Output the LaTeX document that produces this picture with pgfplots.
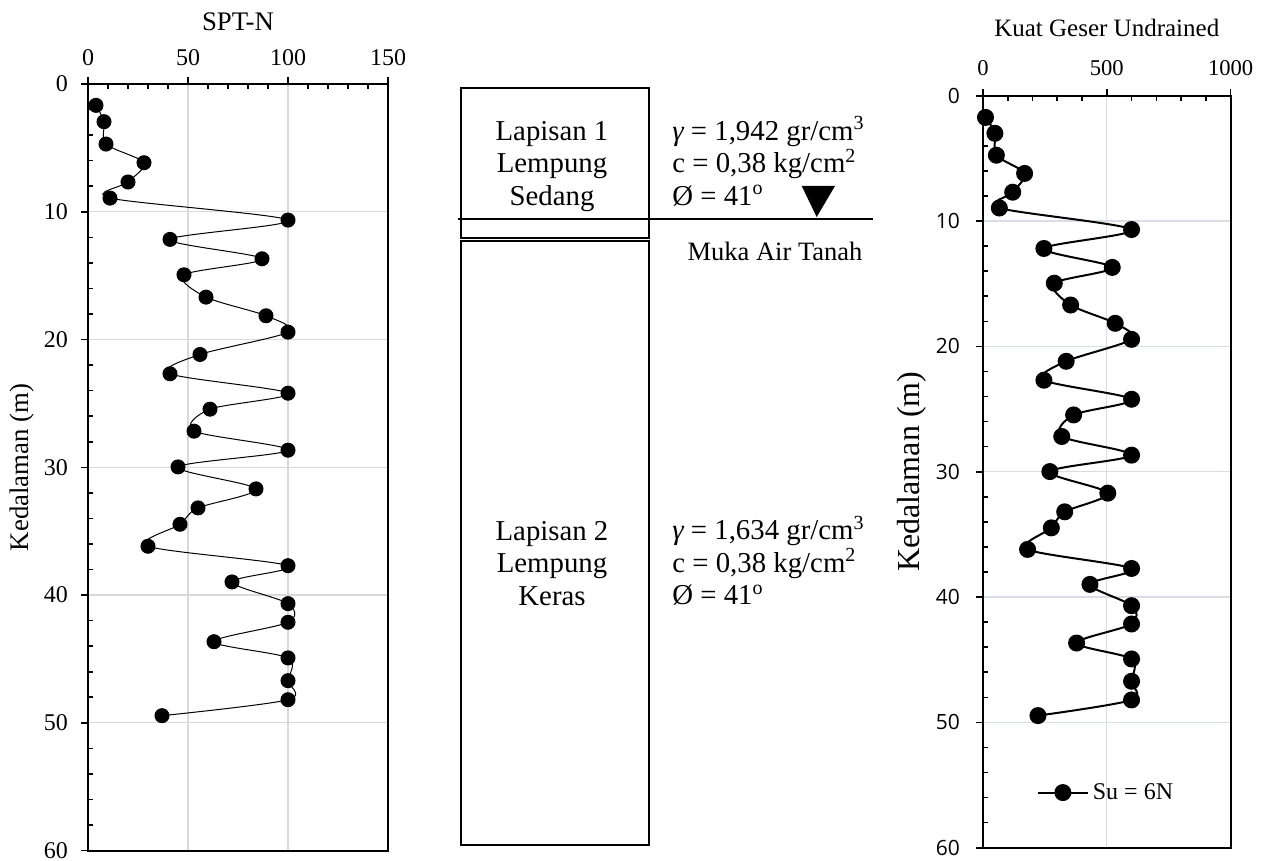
\documentclass[border=0pt]{standalone}
\usepackage{pgfplots}
\pgfplotsset{compat=1.18}
\usepackage{fontspec}
\setmainfont{Liberation Serif}
\newfontfamily\ticksans{Open Sans}

\pgfplotstableread{
d N
1.67 4
2.95 8
4.70 9
6.16 28
7.67 20
8.93 11
10.65 100
12.16 41
13.68 87
14.93 48
16.68 59
18.14 89
19.42 100
21.17 56
22.68 41
24.20 100
25.45 61
27.17 53
28.66 100
29.97 45
31.69 84
33.18 55
34.46 46
36.18 30
37.70 100
38.97 72
40.67 100
42.13 100
43.65 63
44.92 100
46.70 100
48.19 100
49.44 37
}\spt

\pgfplotstableread{
d Su
1.73 10
3.00 48
4.75 54
6.20 168
7.70 120
8.96 66
10.68 600
12.19 246
13.70 522
14.96 288
16.70 354
18.16 534
19.44 600
21.19 336
22.70 246
24.22 600
25.47 366
27.19 318
28.68 600
29.99 270
31.71 504
33.20 330
34.48 276
36.20 180
37.72 600
38.99 432
40.69 600
42.15 600
43.67 378
44.94 600
46.72 600
48.21 600
49.46 222
}\su

\pgfplotsset{
  commonaxis/.style={
    scale only axis,
    y dir=reverse,
    ymin=0, ymax=60,
    ytick={0,10,...,60},
    minor y tick num=4,
    xtick pos=upper, xticklabel pos=upper,
    ytick pos=left,
    tick align=outside,
    major tick length=3.5pt,
    minor tick length=-2.5pt,
    tick style={black, line width=0.8pt},
    axis line style={black, line width=1pt},
    grid=major,
    /pgf/number format/assume math mode=true,
    /pgf/number format/1000 sep={},
  },
}

\begin{document}
\begin{tikzpicture}
\useasboundingbox (0,0) rectangle (635pt,-430.5pt);

% ---------------- Left: SPT-N ----------------
\begin{axis}[commonaxis,
  at={(44pt,-42pt)}, anchor=north west,
  width=150pt, height=383.3pt,
  xmin=0, xmax=150, xtick={0,50,100,150}, minor x tick num=4,
  major grid style={gray!30, line width=0.6pt},
  xticklabel style={font=\fontsize{12}{14}\selectfont, yshift=2pt},
  yticklabel style={font=\fontsize{12}{14}\selectfont, xshift=-3pt},
  xlabel={SPT-N},
  xlabel style={at={(axis description cs:0.5,1.0813)}, anchor=center, font=\fontsize{13.4}{16}\selectfont},
  ylabel={Kedalaman (m)},
  ylabel style={at={(axis description cs:-0.22,0.5)}, anchor=center, font=\fontsize{13.4}{16}\selectfont},
]
\addplot[black, line width=0.5pt, smooth, tension=0.5, mark=*, mark size=3.5pt, mark options={fill=black}]
  table[x=N, y=d] {\spt};
\end{axis}

% ---------------- Middle: soil profile ----------------
\begin{axis}[
  at={(220pt,-42pt)}, anchor=north west,
  scale only axis, hide axis,
  width=230pt, height=383.3pt,
  xmin=440, xmax=900, ymin=0, ymax=60, y dir=reverse,
  clip=false,
]
\draw[black, line width=1pt] (axis cs:460.7,0.34) rectangle (axis cs:649.3,12.08);
\draw[black, line width=1pt] (axis cs:460.7,12.26) rectangle (axis cs:649.3,59.56);
\draw[black, line width=0.6pt] (axis cs:458,10.57) -- (axis cs:873,10.57);
\fill[black] (axis cs:801.7,7.98) -- (axis cs:835,7.98) -- (axis cs:816.7,10.41) -- cycle;
\node[align=center, inner sep=0pt, font=\fontsize{14.4}{16.25}\selectfont] at (axis cs:552,6.45)
  {Lapisan 1\\Lempung\\Sedang};
\node[align=left, anchor=west, inner sep=0pt, font=\fontsize{14.4}{16.25}\selectfont] at (axis cs:672,6.03)
  {{\itshape γ} = 1,942 gr/cm\textsuperscript{3}\\c = 0,38 kg/cm\textsuperscript{2}\\Ø = 41\textsuperscript{o}};
\node[inner sep=0pt, font=\fontsize{13.25}{15}\selectfont] at (axis cs:775,13.12) {Muka Air Tanah};
\node[align=center, inner sep=0pt, font=\fontsize{14.4}{16.25}\selectfont] at (axis cs:552,37.5)
  {Lapisan 2\\Lempung\\Keras};
\node[align=left, anchor=west, inner sep=0pt, font=\fontsize{14.4}{16.25}\selectfont] at (axis cs:672,37.33)
  {{\itshape γ} = 1,634 gr/cm\textsuperscript{3}\\c = 0,38 kg/cm\textsuperscript{2}\\Ø = 41\textsuperscript{o}};
\end{axis}

% ---------------- Right: Su ----------------
\begin{axis}[commonaxis,
  at={(491.5pt,-47.85pt)}, anchor=north west,
  width=123.8pt, height=376pt,
  xmin=0, xmax=1000, xtick={0,500,1000}, minor x tick num=4,
  major grid style={color={rgb,255:red,217;green,222;blue,230}, line width=0.6pt},
  xticklabel style={font=\fontsize{11.3}{13}\selectfont, yshift=3pt},
  yticklabel style={font=\ticksans\fontsize{10.5}{12}\selectfont, xshift=-4.5pt},
  xlabel={Kuat Geser Undrained},
  xlabel style={at={(axis description cs:0.5,1.0896)}, anchor=center, font=\fontsize{12.5}{14}\selectfont},
  ylabel={Kedalaman (m)},
  ylabel style={at={(axis description cs:-0.287,0.5)}, anchor=center, font=\fontsize{16}{18}\selectfont},
  legend style={at={(axis cs:216,55.6)}, anchor=west, draw=none, fill=none,
    inner sep=0pt, font=\fontsize{12}{14}\selectfont},
  legend image code/.code={\draw[mark repeat=2, mark phase=2, #1] plot coordinates {(0pt,0pt) (12.5pt,0pt) (25pt,0pt)};},
]
\addplot[black, line width=1pt, smooth, tension=0.5, mark=*, mark size=3.75pt, mark options={fill=black}]
  table[x=Su, y=d] {\su};
\addlegendentry{Su = 6N}
\end{axis}
\end{tikzpicture}
\end{document}
